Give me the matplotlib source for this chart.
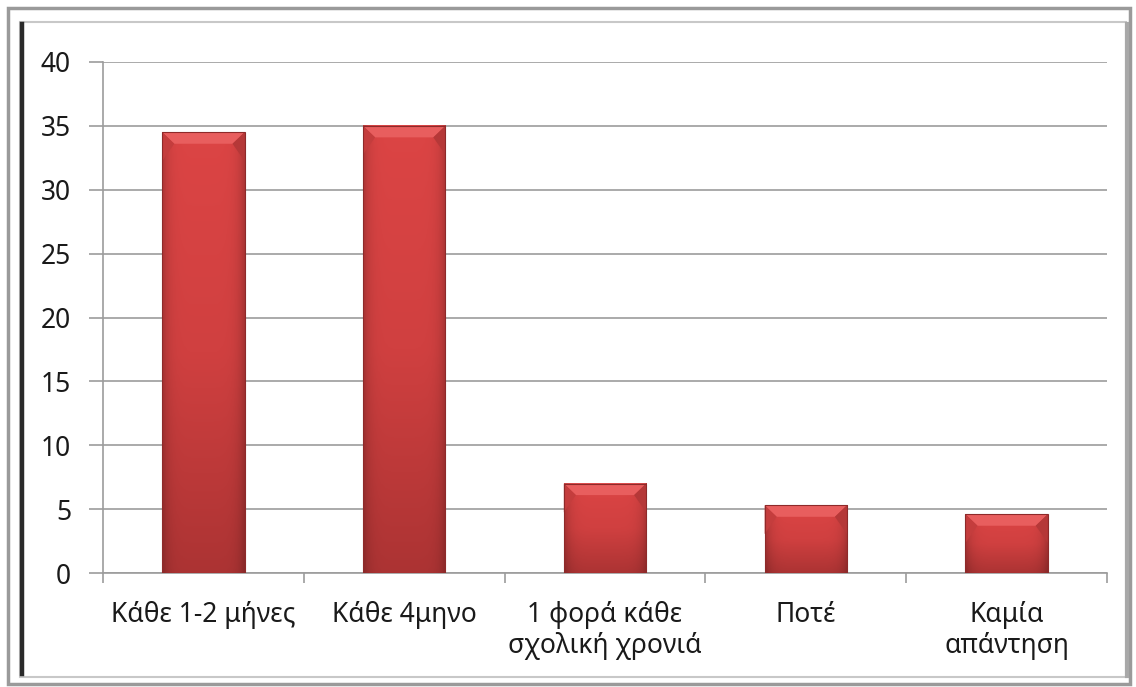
import matplotlib
matplotlib.use("Agg")
import matplotlib.pyplot as plt
import matplotlib.patches as mpatches
import numpy as np
from matplotlib.colors import LinearSegmentedColormap

categories = ["Κάθε 1-2 μήνες", "Κάθε 4μηνο", "1 φορά κάθε\nσχολική χρονιά", "Ποτέ", "Καμία\nαπάντηση"]
values = [34.5, 35.0, 7.0, 5.3, 4.6]
yticks = [0, 5, 10, 15, 20, 25, 30, 35, 40]

W, H = 1136, 687
fig = plt.figure(figsize=(W / 100, H / 100), dpi=100)
fig.patch.set_facecolor("white")
plt.rcParams["font.family"] = ["Noto Sans", "DejaVu Sans"]


def fx(px):
    return px / W


def fy(py):
    return 1 - py / H


# outer frame (picture border + shadowed inner frame)
fig.add_artist(mpatches.Rectangle((fx(8), fy(684)), fx(1122), 676 / H, fill=False,
                                  edgecolor="#9A9A9A", linewidth=2.5, transform=fig.transFigure))
fig.add_artist(mpatches.Rectangle((fx(20), fy(677)), fx(1106), 655 / H, fill=False,
                                  edgecolor="#C8C8C8", linewidth=1.5, transform=fig.transFigure))
fig.add_artist(plt.Line2D([fx(21.5), fx(21.5)], [fy(24), fy(674)], color="#2A2A2A",
                          linewidth=3.2, transform=fig.transFigure))
fig.add_artist(plt.Line2D([fx(1127), fx(1127)], [fy(24), fy(676)], color="#A8A8A8",
                          linewidth=3.0, transform=fig.transFigure))

ax = fig.add_axes([fx(103), fy(573), fx(1107) - fx(103), (573 - 62) / H])
x = np.arange(len(categories))
bars = ax.bar(x, values, width=0.41, color="#C83A3A", edgecolor="none", zorder=3)

# shaded bar fill: darker towards bottom and at the sides, bevel at the top
cmap_v = LinearSegmentedColormap.from_list("bar", ["#DD4545", "#D04040", "#A83232"])
for bar in bars:
    x0, y0 = bar.get_x(), bar.get_y()
    w, h = bar.get_width(), bar.get_height()
    ny, nx = 200, 60
    vy = np.linspace(0, 1, ny)[:, None]
    vx = np.linspace(-1, 1, nx)[None, :]
    base = cmap_v(np.clip((1 - vy) * 0.9 + 0.05, 0, 1))[..., :3] * np.ones((ny, nx, 1))
    shade = 1 - 0.2 * np.abs(vx) ** 6
    img = base * shade[..., None]
    ax.imshow(img, extent=[x0, x0 + w, y0, y0 + h], origin="lower", aspect="auto", zorder=3)
    # top bevel
    bev = 0.9
    dx = 0.06
    ax.add_patch(mpatches.Polygon([[x0, y0 + h], [x0 + w, y0 + h], [x0 + w - dx, y0 + h - bev],
                                   [x0 + dx, y0 + h - bev]], closed=True, facecolor="#E85E5E",
                                  edgecolor="none", zorder=4))
    ax.add_patch(mpatches.Polygon([[x0 + w, y0 + h], [x0 + w, y0 + h - bev * 2.5],
                                   [x0 + w - dx, y0 + h - bev]], closed=True,
                                  facecolor="#B53838", edgecolor="none", zorder=4))
    ax.add_patch(mpatches.Polygon([[x0, y0 + h], [x0, y0 + h - bev * 2.5],
                                   [x0 + dx, y0 + h - bev]], closed=True,
                                  facecolor="#C43D3D", edgecolor="none", zorder=4))
    ax.add_patch(mpatches.Rectangle((x0, y0), w, h, fill=False, edgecolor="#8E2A2A",
                                    linewidth=0.8, zorder=5))

ax.set_xlim(-0.5, len(categories) - 0.5)
ax.set_ylim(0, 40)
ax.set_yticks(yticks)
ax.set_yticklabels([str(t) for t in yticks], fontsize=19, color="#1A1A1A")
ax.yaxis.grid(True, color="#9C9C9C", linewidth=1.2, zorder=0)
ax.tick_params(axis="y", length=10, width=1.2, color="#9C9C9C", pad=13)

ax.set_xticks(x)
ax.set_xticklabels(categories, fontsize=19, color="#1A1A1A", linespacing=1.15)
ax.set_xticks(np.arange(len(categories) + 1) - 0.5, minor=True)
ax.tick_params(axis="x", which="major", length=0, pad=20)
ax.tick_params(axis="x", which="minor", length=7, width=1.2, color="#9C9C9C")

for side in ["top", "right"]:
    ax.spines[side].set_visible(False)
for side in ["left", "bottom"]:
    ax.spines[side].set_color("#9C9C9C")
    ax.spines[side].set_linewidth(1.2)

fig.savefig("out.png", dpi=100, facecolor="white")
